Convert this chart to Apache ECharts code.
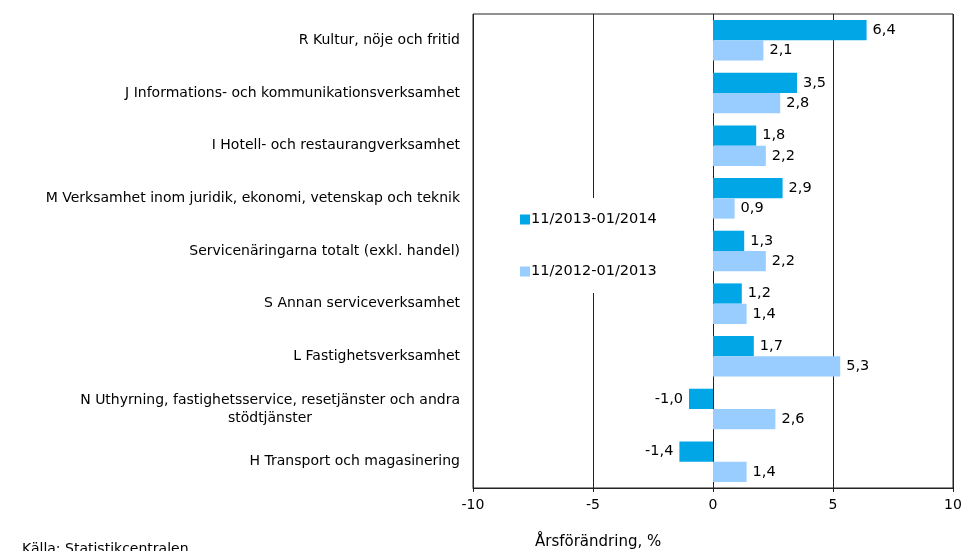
<!DOCTYPE html>
<html>
<head>
<meta charset="utf-8">
<script src="https://cdn.jsdelivr.net/npm/echarts@6/dist/echarts.min.js"></script>
<style>
  html, body { margin: 0; padding: 0; background: #fff; }
  #chart { width: 962px; height: 551px; }
</style>
</head>
<body>
<div id="chart"></div>
<script>
'use strict';
var categories = [
	'R Kultur, nöje och fritid',
	'J Informations- och kommunikationsverksamhet',
	'I Hotell- och restaurangverksamhet',
	'M Verksamhet inom juridik, ekonomi, vetenskap och teknik',
	'Servicenäringarna totalt (exkl. handel)',
	'S Annan serviceverksamhet',
	'L Fastighetsverksamhet',
	'N Uthyrning, fastighetsservice, resetjänster och andra\nstödtjänster',
	'H Transport och magasinering'
];
var seriesNames = ['11/2013-01/2014', '11/2012-01/2013'];
var values2014 = [6.4, 3.5, 1.8, 2.9, 1.3, 1.2, 1.7, -1.0, -1.4];
var values2013 = [2.1, 2.8, 2.2, 0.9, 2.2, 1.4, 5.3, 2.6, 1.4];
var xTicks = [-10, -5, 0, 5, 10];

var font = 'DejaVu Sans';
var catSize = 14;

function fmt(v) {
	return v.toFixed(1).replace('.', ',');
}

// width of a text line, used to center the wrapped second line under the first
function textWidth(t, size) {
	var ctx = document.createElement('canvas').getContext('2d');
	ctx.font = size + 'px "' + font + '"';
	return Math.ceil(ctx.measureText(t).width);
}

function barData(arr) {
	return arr.map(function(v) {
		return {
			value: v,
			label: { position: v < 0 ? 'left' : 'right' }
		};
	});
}

var wrapWidth = textWidth(categories[7].split('\n')[0], catSize);

var myChart = echarts.init(document.getElementById('chart'));
var option = {
	animation: false,
	textStyle: { fontFamily: font },
	grid: {
		left: 473,
		right: 9,
		top: 14,
		bottom: 63,
		outerBoundsMode: 'none',
		containLabel: false,
		show: true,
		borderColor: '#222',
		borderWidth: 1
	},
	legend: {
		orient: 'vertical',
		left: 508,
		top: 198,
		padding: [14, 12],
		itemGap: 37,
		itemWidth: 10,
		itemHeight: 10,
		backgroundColor: '#fff',
		icon: 'rect',
		textStyle: { fontSize: 14.5, color: '#000', fontFamily: font, padding: [0, 0, 0, -4] },
		data: seriesNames
	},
	xAxis: [{
		type: 'value',
		min: xTicks[0],
		max: xTicks[xTicks.length - 1],
		interval: 5,
		axisLine: { show: true, lineStyle: { color: '#222' } },
		axisTick: { show: true, length: 4, lineStyle: { color: '#222' } },
		axisLabel: { color: '#000', fontSize: 14, margin: 10, fontFamily: font },
		splitLine: { show: true, lineStyle: { color: '#222', width: 1 } }
	}],
	yAxis: [{
		type: 'category',
		inverse: true,
		data: categories,
		axisLine: { show: false },
		axisTick: { show: false },
		axisLabel: {
			color: '#000',
			fontSize: catSize,
			fontFamily: font,
			margin: 13,
			formatter: function(v) {
				if (v.indexOf('\n') >= 0) {
					var parts = v.split('\n');
					return '{a|' + parts[0] + '}\n{b|' + parts[1] + '}';
				}
				return v;
			},
			rich: {
				a: { fontSize: catSize, fontFamily: font, color: '#000', lineHeight: 18 },
				b: { fontSize: catSize, fontFamily: font, color: '#000', lineHeight: 18, width: wrapWidth, align: 'center' }
			}
		}
	}],
	series: [{
		name: seriesNames[0],
		type: 'bar',
		barGap: '0%',
		barCategoryGap: '23%',
		itemStyle: { color: '#00A6E6' },
		label: {
			show: true,
			color: '#000',
			fontSize: 14.5,
			fontFamily: font,
			distance: 6,
			formatter: function(p) { return fmt(p.value); }
		},
		data: barData(values2014)
	},
	{
		name: seriesNames[1],
		type: 'bar',
		itemStyle: { color: '#99CCFF' },
		label: {
			show: true,
			color: '#000',
			fontSize: 14.5,
			fontFamily: font,
			distance: 6,
			formatter: function(p) { return fmt(p.value); }
		},
		data: barData(values2013)
	}],
	graphic: [{
		type: 'text',
		left: 535,
		top: 535,
		style: { text: 'Årsförändring, %', fontSize: 15, fill: '#000', fontFamily: font }
	},
	{
		type: 'text',
		left: 22,
		top: 542,
		style: { text: 'Källa: Statistikcentralen', fontSize: 14, fill: '#000', fontFamily: font }
	}]
};
myChart.setOption(option);
</script>
</body>
</html>
